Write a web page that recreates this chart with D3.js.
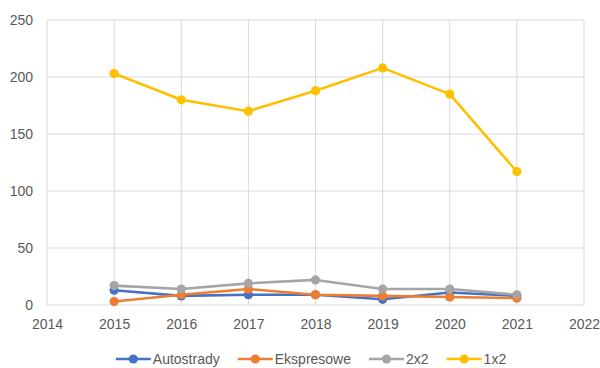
<!DOCTYPE html>
<html>
<head>
<meta charset="utf-8">
<script src="https://cdn.jsdelivr.net/npm/d3@7/dist/d3.min.js"></script>
<style>
  html, body { margin: 0; padding: 0; background: #fff; }
  svg { display: block; font-family: "Liberation Sans", Arial, sans-serif; }
</style>
</head>
<body>
<svg id="chart" width="600" height="368"></svg>
<script>
// Road categories, yearly values
const years = [2015, 2016, 2017, 2018, 2019, 2020, 2021];
const autostrady = [13, 8, 9, 9, 5, 11, 8];
const ekspresowe = [3, 9, 14, 9, 8, 7, 6];
const dwaNaDwa = [17, 14, 19, 22, 14, 14, 9];
const jedenNaDwa = [203, 180, 170, 188, 208, 185, 117];

const seriesNames = ["Autostrady", "Ekspresowe", "2x2", "1x2"];
const seriesValues = [autostrady, ekspresowe, dwaNaDwa, jedenNaDwa];
const seriesColors = ["#4472C4", "#ED7D31", "#A5A5A5", "#FFC000"];

const xTicks = [2014, 2015, 2016, 2017, 2018, 2019, 2020, 2021, 2022];
const yTicks = [0, 50, 100, 150, 200, 250];

const svg = d3.select("#chart");
const plotLeft = 47, plotRight = 584, plotTop = 20, plotBottom = 305;

const x = d3.scaleLinear().domain([2014, 2022]).range([plotLeft, plotRight]);
const y = d3.scaleLinear().domain([0, 250]).range([plotBottom, plotTop]);

const grid = "#d9d9d9";
const textColor = "#595959";

// gridlines
svg.append("g").selectAll("line").data(yTicks).join("line")
  .attr("x1", plotLeft).attr("x2", plotRight)
  .attr("y1", d => y(d)).attr("y2", d => y(d))
  .attr("stroke", grid).attr("stroke-width", 1);
svg.append("g").selectAll("line").data(xTicks).join("line")
  .attr("x1", d => x(d)).attr("x2", d => x(d))
  .attr("y1", plotTop).attr("y2", plotBottom)
  .attr("stroke", grid).attr("stroke-width", 1);

// axis labels
const yAxis = d3.axisLeft(y).tickValues(yTicks).tickSize(0).tickPadding(14);
svg.append("g").attr("transform", `translate(${plotLeft},0)`).call(yAxis)
  .call(g => g.select(".domain").remove())
  .call(g => g.selectAll("text").attr("fill", textColor)
    .style("font-size", "14px").style("font-family", "Liberation Sans, Arial, sans-serif"));

const xAxis = d3.axisBottom(x).tickValues(xTicks).tickFormat(d3.format("d")).tickSize(0).tickPadding(14);
svg.append("g").attr("transform", `translate(0,${plotBottom})`).call(xAxis)
  .call(g => g.select(".domain").remove())
  .call(g => g.selectAll("text").attr("fill", textColor)
    .style("font-size", "14px").style("font-family", "Liberation Sans, Arial, sans-serif"));

// series: lines with round markers
const line = d3.line().x((d, i) => x(years[i])).y(d => y(d));
seriesValues.forEach((vals, si) => {
  const g = svg.append("g");
  g.append("path").datum(vals)
    .attr("d", line)
    .attr("fill", "none")
    .attr("stroke", seriesColors[si])
    .attr("stroke-width", 2.6)
    .attr("stroke-linejoin", "round");
  g.selectAll("circle").data(vals).join("circle")
    .attr("cx", (d, i) => x(years[i]))
    .attr("cy", d => y(d))
    .attr("r", 4.6)
    .attr("fill", seriesColors[si]);
});

// legend
const legend = svg.append("g");
const legendY = 359;
const items = [];
seriesNames.forEach((name, i) => {
  const item = legend.append("g");
  item.append("line").attr("x1", 0).attr("x2", 35).attr("y1", 0).attr("y2", 0)
    .attr("stroke", seriesColors[i]).attr("stroke-width", 2.6);
  item.append("circle").attr("cx", 17.5).attr("cy", 0).attr("r", 4.6).attr("fill", seriesColors[i]);
  const t = item.append("text").attr("x", 37).attr("y", 0).attr("dy", "0.35em")
    .attr("fill", textColor).style("font-size", "14px").text(name);
  const w = 37 + t.node().getComputedTextLength();
  items.push({ item, w });
});
const gap = 18;
const total = d3.sum(items, d => d.w) + gap * (items.length - 1);
let cursor = 311 - total / 2;
items.forEach(d => {
  d.item.attr("transform", `translate(${cursor},${legendY})`);
  cursor += d.w + gap;
});
</script>
</body>
</html>
